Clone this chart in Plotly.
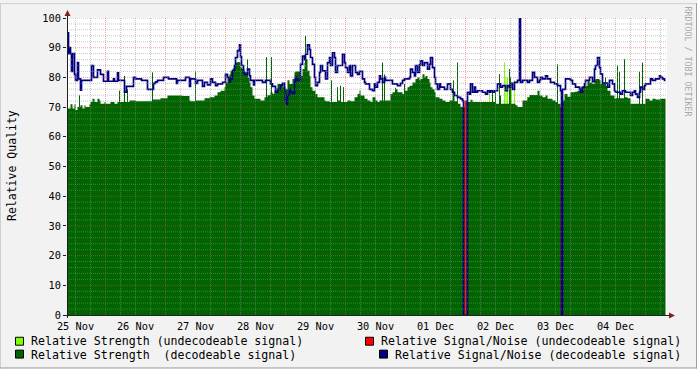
import plotly.graph_objects as go

# ---------------- data (x = hours since 25 Nov 00:00) ----------------
snr_h = [8.8, 9.2, 9.6, 10.0, 10.4, 10.8, 11.6, 12.0, 12.8, 13.2, 14.0, 14.4, 18.4, 19.2, 20.8, 22.0,
         23.2, 24.8, 25.2, 27.2, 27.6, 28.8, 29.2, 31.6, 32.4, 35.2, 36.0, 38.4, 40.8, 43.2, 44.0, 44.8,
         47.2, 49.2, 52.4, 52.8, 56.0, 57.6, 58.0, 60.0, 60.8, 62.8, 63.6, 64.8, 66.0, 66.8, 68.0, 68.8,
         70.8, 72.0, 72.8, 73.6, 74.0, 74.8, 75.6, 76.0, 76.8, 77.6, 78.0, 78.4, 79.2, 79.6, 80.8, 81.6,
         82.0, 83.2, 83.6, 86.8, 88.0, 90.0, 90.8, 92.0, 92.8, 94.0, 94.8, 95.6, 96.0, 96.4, 96.8, 97.6,
         98.0, 98.8, 99.6, 100.0, 100.8, 102.0, 102.8, 103.6, 104.0, 104.8, 105.6, 106.0, 106.8, 107.6,
         108.0, 108.8, 109.6, 110.0, 110.8, 112.0, 112.8, 113.6, 114.0, 114.8, 115.6, 116.0, 116.8, 118.8,
         119.6, 120.0, 120.8, 121.6, 122.0, 122.8, 124.0, 124.8, 125.6, 126.8, 127.6, 128.0, 129.6, 130.8,
         131.6, 132.0, 132.8, 133.6, 134.0, 134.8, 135.6, 136.0, 138.8, 140.8, 142.0, 142.8, 143.6, 145.6,
         146.0, 146.8, 147.6, 148.0, 148.8, 149.6, 150.0, 150.8, 151.6, 152.8, 153.6, 154.0, 154.8, 155.6,
         156.0, 156.8, 157.6, 158.0, 159.6, 160.8, 162.0, 162.8, 163.6, 164.8, 166.0, 166.8, 167.2, 168.8,
         169.6, 170.0, 170.8, 171.6, 172.0, 172.8, 174.8, 176.0, 176.8, 177.6, 178.0, 178.8, 179.6, 180.8,
         182.0, 182.8, 184.0, 184.8, 185.6, 186.0, 186.8, 187.6, 188.8, 189.6, 190.0, 190.8, 192.8, 193.6,
         194.8, 195.6, 196.8, 197.6, 198.0, 198.8, 200.0, 200.8, 202.0, 203.6, 204.8, 206.0, 206.4, 206.8,
         208.0, 210.0, 210.8, 212.0, 213.6, 214.0, 214.8, 215.6, 216.0, 217.6, 218.8, 219.6, 220.0, 220.8,
         221.6, 222.0, 222.8, 224.8, 225.6, 226.8, 227.6, 228.0, 230.0, 230.8, 232.0, 234.0, 234.8, 235.6,
         236.0, 236.8, 237.6, 238.0, 238.8, 239.6, 240.0, 242.0, 242.8, 244.0, 245.6, 246.0, 246.8, 247.6,
         248.0]
snr_v = [95, 88, 90, 88, 82, 88, 81, 79, 85, 79.5, 75.7, 79, 84, 80, 82.5, 81,
         78.7, 82, 78.7, 79.5, 78.7, 81.5, 79, 75, 77, 80, 79.5, 79, 76, 78, 78.5, 79,
         80, 79.5, 78, 79, 80, 77, 79.5, 78, 79, 77, 78.3, 77.5, 79.5, 78.3, 77.2, 77.8,
         78.3, 81, 80, 78.3, 79.5, 82.2, 84, 86.7, 89, 91, 87, 84, 81.7, 81, 82.8, 80.5,
         79, 77.5, 79, 78.3, 79, 77.8, 77, 75, 76, 77.2, 78, 76, 72, 71, 74, 76,
         75, 74.5, 78.3, 80, 79, 84.4, 87.2, 86, 87.8, 91, 89.4, 86.7, 84.4, 80,
         77.2, 78.3, 81.7, 84, 82.2, 79.5, 85, 86.7, 84, 88.3, 86.7, 81.7, 84, 87.8,
         85, 83.3, 81.7, 84, 80.5, 84, 81.7, 81, 82, 79.5, 78.3, 77.8, 76, 75.5,
         77.8, 76.7, 78.3, 80.5, 79.5, 78.3, 80, 79, 77.8, 77.2, 78, 79, 79.5, 80,
         82.8, 81.7, 80.5, 84, 81.7, 84.2, 85.6, 84, 85, 82.8, 84.4, 86.7, 83.3, 80,
         77.8, 76, 77.8, 76.7, 76, 77.8, 76, 75, 73.9, 73.3, 72.8, 72.2, 0, 75,
         74.4, 77.8, 75, 76.7, 75, 75.5, 75, 74.4, 75.5, 75, 75.5, 75, 75.5, 77.8,
         76.7, 77.2, 75.5, 77.2, 76.7, 78, 76, 78.3, 79, 100, 78.3, 79, 78.3, 79,
         81.7, 80, 78.3, 79, 80, 79.5, 80.5, 79.5, 78.3, 77.8, 77.2, 75.5, 0, 76,
         79.5, 79, 77.8, 76.7, 76, 75, 76.7, 77.8, 79, 80, 78.6, 82.8, 84, 86.7,
         83.3, 81.1, 78.1, 76.7, 79, 77.8, 75.5, 75, 74.4, 75.5, 75, 73.9, 75, 75.5,
         74.4, 73.3, 75, 76.7, 76, 77.2, 77.8, 79.5, 79, 79.5, 80.5, 80, 79.5, 79,
         79]

str_h = [8.8, 10.0, 10.8, 11.6, 12.0, 12.8, 14.0, 14.8, 15.6, 16.0, 17.6, 18.0, 18.8, 19.6, 20.8, 21.6,
         22.0, 23.6, 24.0, 26.0, 27.6, 28.8, 33.6, 36.0, 42.8, 46.0, 48.8, 54.8, 57.6, 58.0, 60.0, 63.6,
         65.6, 67.6, 68.8, 70.0, 71.6, 72.0, 72.8, 73.6, 74.0, 74.8, 75.6, 76.0, 76.8, 77.6, 78.0, 78.8,
         79.6, 80.8, 81.6, 82.0, 82.8, 83.6, 86.0, 87.6, 88.8, 90.0, 90.8, 91.6, 92.8, 94.8, 96.0, 96.8,
         97.6, 98.8, 99.6, 100.0, 102.0, 102.8, 103.6, 104.0, 104.8, 105.6, 106.0, 106.8, 108.0, 108.8,
         111.6, 112.0, 113.6, 116.8, 118.0, 120.8, 122.0, 123.6, 124.8, 125.6, 126.0, 127.6, 128.8, 130.0,
         130.8, 132.0, 132.8, 133.6, 138.0, 138.8, 140.0, 140.8, 142.8, 143.6, 144.8, 145.6, 146.8, 148.0,
         148.8, 149.6, 150.0, 150.8, 151.6, 152.0, 152.8, 153.6, 154.0, 154.8, 155.6, 156.0, 157.6, 158.8,
         160.0, 161.6, 162.8, 163.6, 164.8, 166.0, 168.0, 168.8, 170.0, 170.8, 180.0, 188.0, 188.8, 190.8,
         192.8, 193.6, 196.8, 197.6, 198.8, 200.0, 200.8, 202.8, 204.0, 204.8, 206.0, 206.4, 206.8, 207.6,
         208.8, 210.0, 211.6, 212.8, 214.0, 215.6, 216.0, 216.8, 217.6, 218.8, 219.6, 220.0, 221.6, 222.0,
         222.8, 224.0, 224.8, 226.0, 227.6, 228.0, 231.6, 232.8, 234.0, 240.0, 241.6, 242.8, 244.0, 246.0,
         248.0]
str_v = [69.5, 71, 69.5, 71, 69, 70, 70.6, 69.5, 70.6, 70, 71, 71.7, 72.8, 71.7, 72.8, 72.2,
         71.1, 71.7, 71.1, 71.7, 71.1, 71.7, 72.2, 72, 72.6, 73, 73.9, 73.7, 72.2, 72, 72.2, 73,
         73.3, 73.9, 75, 75.5, 76.7, 78.3, 80, 81.1, 82.2, 83, 84, 85, 85.2, 85, 83.3, 82.8,
         81.7, 80, 78.3, 76.7, 73.9, 72.8, 72.2, 73.3, 74, 75, 74.5, 75.5, 77.8, 76.7, 76, 79,
         77.8, 79.5, 81.7, 82, 80.5, 82.8, 85, 86.1, 82.2, 80.5, 76.7, 75.5, 74.4, 73.3,
         72.2, 72, 71.7, 72.2, 71.7, 72.2, 72, 73.3, 74.4, 75.5, 73.9, 72.8, 72.2, 71.7,
         73.3, 72.2, 71.7, 72.2, 74.4, 75, 76, 75, 74.4, 75.5, 76.7, 77.2, 78.3, 79.5,
         80, 79, 79.5, 81.1, 80, 80.5, 79.5, 78.3, 76.7, 76, 75, 73.3, 72.8, 72.2,
         71.7, 72.2, 75, 72, 71.1, 70, 72.2, 71.7, 72.5, 71.7, 71.1, 70.6, 70, 72.2,
         73.3, 74.1, 75.5, 73.9, 73.3, 73.9, 72.8, 72.2, 71.7, 71.1, 70, 67, 72.2, 74.4,
         73.5, 75, 75.2, 75.5, 76.7, 77.8, 77.2, 79, 78.3, 77.8, 79, 79.5, 79, 77.8,
         78.3, 77, 75.5, 73.9, 72.8, 73, 73.3, 73, 71.1, 72.8, 72.2, 72.8, 72.6, 72.8,
         72.8]

# single-sample peaks of decodeable strength
peak_h = [8.8, 13.6, 29.6, 31.6, 32.8, 42.8, 60.0, 80.8, 88.4, 90.4, 104.0, 114.4, 116.8, 118.0,
          119.2, 134.8, 135.6, 140.0, 143.6, 163.2, 164.8, 178.8, 180.0, 181.6, 182.0, 185.6, 186.0,
          204.8, 224.0, 228.8, 229.6, 231.6, 237.6, 238.8]
peak_v = [74, 74, 75.5, 80.5, 76, 81.7, 82, 86.1, 86.8, 86.8, 94, 79, 76.7, 77.2,
          76.7, 85, 81, 76.5, 77.8, 79, 85, 75.5, 75, 81.1, 73.9, 82.8, 80,
          84.4, 80, 84, 81.9, 86.1, 81.9, 85]

# undecodeable signal strength
undec_h = [177.6, 183.6, 184.2, 184.8, 185.6, 186.4, 187.6, 192.8]
undec_v = [75.5, 85, 80, 80, 78, 78.5, 79, 73.5]

# undecodeable signal/noise
snr_undec_h = [168.0, 206.4]
snr_undec_v = [72, 70]

day_labels = ["25 Nov", "26 Nov", "27 Nov", "28 Nov", "29 Nov",
              "30 Nov", "01 Dec", "02 Dec", "03 Dec", "04 Dec"]
y_ticks = [0, 10, 20, 30, 40, 50, 60, 70, 80, 90, 100]

# ---------------- colours ----------------
C_DARK = "#006400"
C_LIGHT = "#7FFF00"
C_RED = "#FF0000"
C_BLUE = "#000080"
MONO = "DejaVu Sans Mono"

W, H = 697, 369
L, R, T, B = 67, 30, 15, 54
PW, PH = W - L - R, H - T - B
X0 = 8.6
X1 = X0 + PW * 0.4


def px(xp):
    return (xp - L) / PW


def py(yp):
    return (H - B - yp) / PH


def segs(xs, ys):
    sx, sy = [], []
    for a, b in zip(xs, ys):
        sx += [a, a, None]
        sy += [0, b, None]
    return sx, sy


fig = go.Figure()

ux, uy = segs(undec_h, undec_v)
fig.add_trace(go.Scatter(x=ux, y=uy, mode="lines", line=dict(color=C_LIGHT, width=1),
                         hoverinfo="skip", showlegend=False))
fig.add_trace(go.Scatter(x=str_h, y=str_v, mode="lines", line=dict(width=0, shape="hv"),
                         fill="tozeroy", fillcolor=C_DARK, hoverinfo="skip", showlegend=False))
kx, ky = segs(peak_h, peak_v)
fig.add_trace(go.Scatter(x=kx, y=ky, mode="lines", line=dict(color=C_DARK, width=1),
                         hoverinfo="skip", showlegend=False))
rx, ry = segs(snr_undec_h, snr_undec_v)
fig.add_trace(go.Scatter(x=rx, y=ry, mode="lines", line=dict(color=C_RED, width=2),
                         hoverinfo="skip", showlegend=False))
fig.add_trace(go.Scatter(x=snr_h, y=snr_v, mode="lines", line=dict(color=C_BLUE, width=1.7, shape="hv"),
                         hoverinfo="skip", showlegend=False))

shapes = []
GRID = "rgba(143,143,143,0.5)"
MGRID = "rgba(222,79,79,0.5)"
# vertical grid
h = 6
while h < X1:
    if h > X0:
        col = MGRID if h % 24 == 0 else GRID
        shapes.append(dict(type="line", xref="x", yref="y", x0=h, x1=h, y0=0, y1=100,
                           line=dict(color=col, width=1, dash="1px,1px"), layer="above"))
    h += 6
# horizontal grid
for v in range(2, 101, 2):
    col = MGRID if v % 10 == 0 else GRID
    shapes.append(dict(type="line", xref="paper", yref="y", x0=0, x1=1, y0=v, y1=v,
                       line=dict(color=col, width=1, dash="1px,1px"), layer="above"))

AX = "#1F1F1F"
ARW = "#801F1F"
shapes.append(dict(type="line", xref="paper", yref="paper", x0=px(64), x1=px(670),
                   y0=py(315.5), y1=py(315.5), line=dict(color=AX, width=1)))
shapes.append(dict(type="line", xref="paper", yref="paper", x0=px(67.5), x1=px(67.5),
                   y0=py(318), y1=py(10), line=dict(color=AX, width=1)))
shapes.append(dict(type="path", xref="paper", yref="paper", fillcolor=ARW, line=dict(width=0),
                   path=f"M {px(64.5)} {py(13)} L {px(70.5)} {py(13)} L {px(67.5)} {py(7)} Z"))
shapes.append(dict(type="path", xref="paper", yref="paper", fillcolor=ARW, line=dict(width=0),
                   path=f"M {px(669)} {py(312.5)} L {px(669)} {py(318.5)} L {px(675)} {py(315.5)} Z"))
# outer shading
shapes += [
    dict(type="line", xref="paper", yref="paper", x0=px(0), x1=px(W), y0=py(0.5), y1=py(0.5),
         line=dict(color="#CFCFCF", width=1)),
    dict(type="line", xref="paper", yref="paper", x0=px(0.5), x1=px(0.5), y0=py(0), y1=py(H),
         line=dict(color="#CFCFCF", width=1)),
    dict(type="line", xref="paper", yref="paper", x0=px(0), x1=px(W), y0=py(H - 0.5), y1=py(H - 0.5),
         line=dict(color="#9E9E9E", width=1)),
    dict(type="line", xref="paper", yref="paper", x0=px(W - 0.5), x1=px(W - 0.5), y0=py(0), y1=py(H),
         line=dict(color="#9E9E9E", width=1)),
]

annotations = []
legend_items = [
    (15, 337, 30, 341, C_LIGHT, "Relative Strength (undecodeable signal)"),
    (15, 350, 30, 355, C_DARK, "Relative Strength  (decodeable signal)"),
    (365, 337, 380, 341, C_RED, "Relative Signal/Noise (undecodeable signal)"),
    (379, 350, 394, 355, C_BLUE, "Relative Signal/Noise (decodeable signal)"),
]
for sx, sy, tx, ty, col, txt in legend_items:
    shapes.append(dict(type="rect", xref="paper", yref="paper", x0=px(sx + 0.5), x1=px(sx + 8.5),
                       y0=py(sy + 0.5), y1=py(sy + 8.5), fillcolor=col, line=dict(color="#000000", width=1)))
    annotations.append(dict(text=txt, xref="paper", yref="paper", x=px(tx - 1), y=py(ty + 0.5),
                            xanchor="left", yanchor="middle", showarrow=False,
                            font=dict(family=MONO, size=11.6, color="#000000")))

annotations.append(dict(text="Relative Quality", xref="paper", yref="paper", x=px(12), y=py(164.5),
                        textangle=-90, showarrow=False, xanchor="center", yanchor="middle",
                        font=dict(family=MONO, size=11.5, color="#000000")))
annotations.append(dict(text="RRDTOOL / TOBI OETIKER", xref="paper", yref="paper", x=px(688), y=py(59),
                        textangle=90, showarrow=False, xanchor="center", yanchor="middle",
                        font=dict(family=MONO, size=8.3, color="#A8A8A8")))

fig.update_layout(
    width=W, height=H,
    margin=dict(l=L, r=R, t=T, b=B, pad=0),
    paper_bgcolor="#F2F2F2", plot_bgcolor="#FFFFFF",
    showlegend=False,
    shapes=shapes, annotations=annotations,
    xaxis=dict(range=[X0, X1], tickmode="array",
               tickvals=[12 + 24 * i for i in range(len(day_labels))], ticktext=day_labels,
               showgrid=False, zeroline=False, showline=False, ticks="outside", ticklen=2,
               tickcolor="rgba(0,0,0,0)",
               tickfont=dict(family=MONO, size=10.3, color="#000000"), fixedrange=True),
    yaxis=dict(range=[0, 100], tickmode="array", tickvals=y_ticks,
               showgrid=False, zeroline=False, showline=False, ticks="outside", ticklen=3,
               tickcolor=AX, tickfont=dict(family=MONO, size=10.3, color="#000000"), fixedrange=True),
)

fig.write_html("out.html")
